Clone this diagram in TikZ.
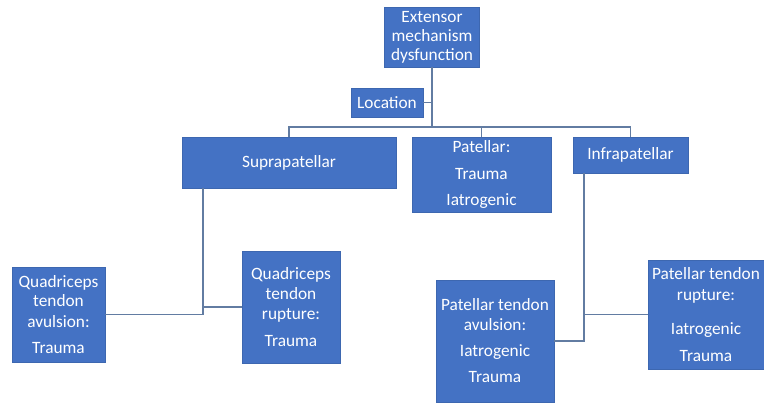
\documentclass[tikz,border=0pt]{standalone}
\usepackage{fontspec}
\setmainfont{Carlito}
\definecolor{boxblue}{HTML}{4472C4}
\definecolor{linec}{RGB}{98,124,162}
\begin{document}
\begin{tikzpicture}[x=1pt,y=-1pt,
  bx/.style={fill=boxblue,draw=boxblue!90!black,line width=0.4pt,text=white,inner sep=0pt,align=center,
    font=\fontsize{17.3}{19.5}\selectfont},
  conn/.style={draw=linec,line width=1.4pt}]
\useasboundingbox (0,0) rectangle (764,403);
\fill[white] (0,0) rectangle (764,403);
% boxes: center, width, height
\node[bx,font=\fontsize{17.3}{19}\selectfont,minimum width=95pt,minimum height=60pt] (top) at (432,37) {Extensor\\mechanism\\dysfunction};
\node[bx,minimum width=72pt,minimum height=29pt] (loc) at (387,102.5) {Location};
\node[bx,minimum width=214pt,minimum height=51pt] (supra) at (289,162.5) {Suprapatellar};
\node[bx,minimum width=139pt,minimum height=75pt] (pat) at (481.5,174.5) {Patellar:\\[7pt]Trauma\\[7pt]Iatrogenic};
\node[bx,minimum width=115pt,minimum height=36pt] (infra) at (630.5,155) {Infrapatellar};
\node[bx,minimum width=93pt,minimum height=95pt] (qa) at (58.5,314.5) {Quadriceps\\tendon\\[1pt]avulsion:\\[6.5pt]Trauma};
\node[bx,minimum width=98pt,minimum height=112pt] (qr) at (291,307) {Quadriceps\\tendon\\[0.5pt]rupture:\\[7.5pt]Trauma};
\node[bx,minimum width=118pt,minimum height=122pt] (pa) at (495,341) {Patellar tendon\\avulsion:\\[7pt]Iatrogenic\\[6.5pt]Trauma};
\node[bx,minimum width=116pt,minimum height=109pt] (pr) at (706,314.5) {Patellar tendon\\[1pt]rupture:\\[15pt]Iatrogenic\\[7pt]Trauma};
% connectors
\coordinate (j) at (432,127);
\coordinate (lj) at (432,102.5);
\draw[conn] (top.south) -- (j);
\draw[conn] (loc.east) -- (lj);
\draw[conn] (supra.north) |- (j) -| (infra.north);
\draw[conn] (pat.north) -- (pat.north |- j);
\coordinate (sx) at ([xshift=21pt]supra.south west);
\draw[conn] (sx) |- (qa.east);
\draw[conn] (qr.west) -- (qr.west -| sx);
\coordinate (ix) at ([xshift=11pt]infra.south west);
\draw[conn] (ix) |- (pa.east);
\draw[conn] (pr.west) -- (pr.west -| ix);
\end{tikzpicture}
\end{document}
